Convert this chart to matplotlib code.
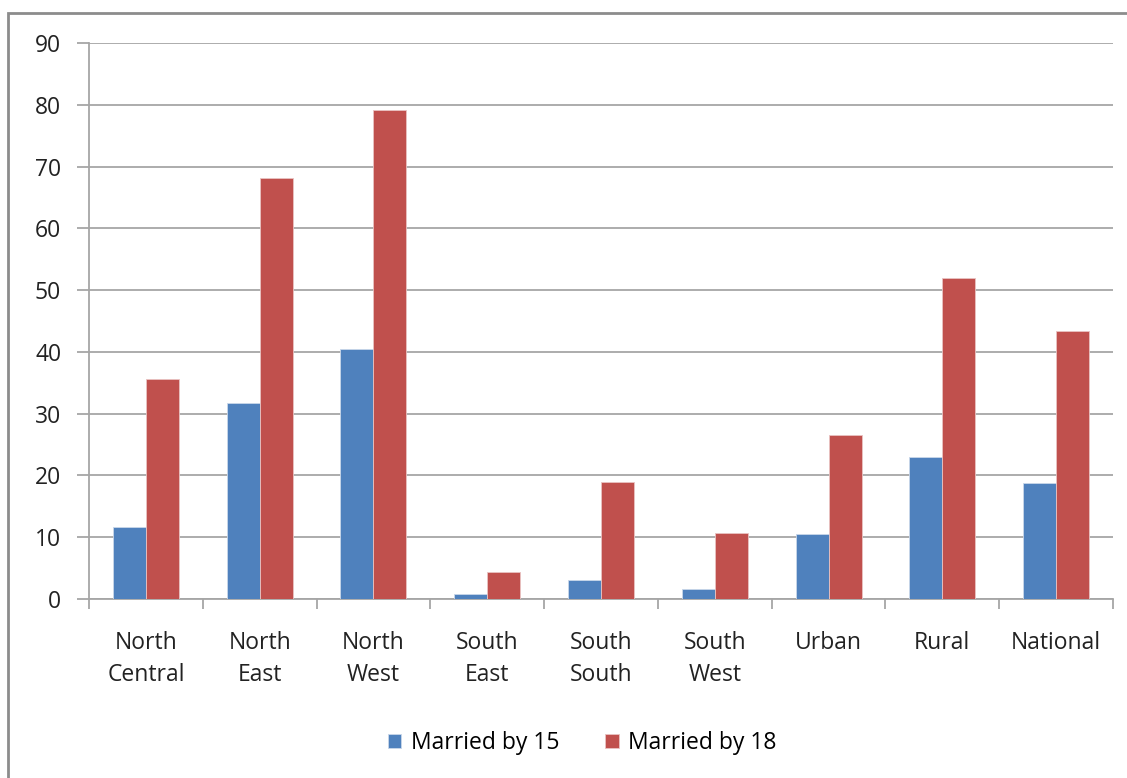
import numpy as np
import matplotlib.pyplot as plt
from matplotlib.patches import Rectangle

plt.rcParams['font.family'] = ['Open Sans', 'DejaVu Sans']

categories = ['North\nCentral', 'North\nEast', 'North\nWest', 'South\nEast', 'South\nSouth',
              'South\nWest', 'Urban', 'Rural', 'National']
married_15 = [11.7, 31.7, 40.4, 0.8, 3.0, 1.6, 10.5, 23.0, 18.8]
married_18 = [35.6, 68.1, 79.2, 4.3, 19.0, 10.7, 26.5, 52.0, 43.4]

fig = plt.figure(figsize=(11.27, 7.78), dpi=100)
ax = fig.add_axes([89 / 1127, 1 - 599 / 778, (1113 - 89) / 1127, (599 - 43) / 778])

# outer chart border
fig.patches.append(Rectangle((8 / 1127, -0.05), 1.1, 1 - 13 / 778 + 0.05, transform=fig.transFigure,
                             fill=False, edgecolor='#8c8c8c', linewidth=2))

x = np.arange(len(categories))
w = 0.29
ax.bar(x - w / 2, married_15, w, color='#4F81BD', edgecolor='#c9d7ea', linewidth=0.6, label='Married by 15', zorder=3)
ax.bar(x + w / 2, married_18, w, color='#C0504D', edgecolor='#e9c3c2', linewidth=0.6, label='Married by 18', zorder=3)

ax.set_xlim(-0.5, len(categories) - 0.5)
ax.set_ylim(0, 90)
ax.set_yticks(range(0, 91, 10))
ax.yaxis.grid(True, color='#a6a6a6', linewidth=1.3, zorder=0)
ax.set_axisbelow(True)

ax.set_xticks(x)
ax.set_xticklabels(categories, fontsize=16.5, color='#222222', linespacing=1.42)
ax.set_xticks(np.arange(-0.5, len(categories)), minor=True)
ax.tick_params(axis='x', which='major', length=0, pad=23)
ax.tick_params(axis='x', which='minor', length=7, color='#a6a6a6', width=1.3)
ax.tick_params(axis='y', length=9, color='#a6a6a6', width=1.3, labelsize=16.5, labelcolor='#222222', pad=11)

for s in ['top', 'right']:
    ax.spines[s].set_visible(False)
for s in ['left', 'bottom']:
    ax.spines[s].set_color('#a6a6a6')
    ax.spines[s].set_linewidth(1.3)

fig.legend(loc='center', bbox_to_anchor=(582 / 1127, 1 - 743 / 778), ncol=2, frameon=False,
           fontsize=16.5, handlelength=0.6, handleheight=0.6, handletextpad=0.4, columnspacing=2.0)

fig.savefig('out.png', dpi=100)
